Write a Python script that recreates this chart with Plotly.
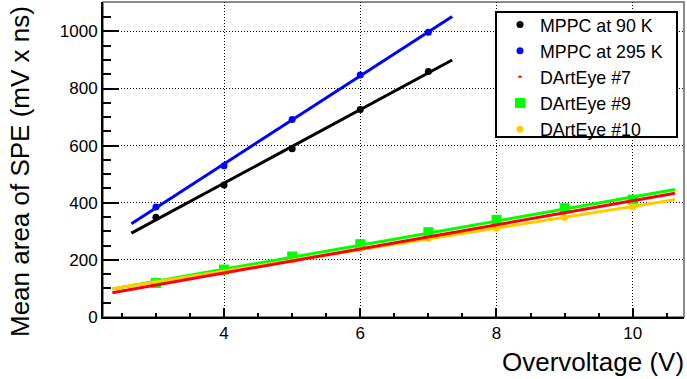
import numpy as np
import plotly.graph_objects as go

# ---- data ----
overvoltage_mppc = [3, 4, 5, 6, 7]
mppc_90k = [349, 462, 589, 727, 860]
mppc_295k = [385, 530, 692, 847, 997]

overvoltage_dae = [3, 4, 5, 6, 7, 8, 9, 10]
darteye_7 = [113, 152, 197, 239, 281, 321, 366, 407]
darteye_9 = [119, 166, 212, 255, 297, 340, 381, 411]
darteye_10 = [121, 158, 200, 240, 276, 311, 348, 385]

fit_range_mppc = [2.64, 7.35]
fit_range_dae = [2.36, 10.62]

x_tickvals = [4, 6, 8, 10]
y_tickvals = [0, 200, 400, 600, 800, 1000]

FONT = "Liberation Sans, Arial, Helvetica, sans-serif"

fig = go.Figure()

series = [
    ("MPPC at 90 K", overvoltage_mppc, mppc_90k, "black", "circle", 7, fit_range_mppc),
    ("MPPC at 295 K", overvoltage_mppc, mppc_295k, "#0000ff", "circle", 7, fit_range_mppc),
    ("DArtEye #7", overvoltage_dae, darteye_7, "#ff0000", "triangle-up", 4, fit_range_dae),
    ("DArtEye #9", overvoltage_dae, darteye_9, "#00ff00", "square", 10, fit_range_dae),
    ("DArtEye #10", overvoltage_dae, darteye_10, "#ffcc00", "circle", 7, fit_range_dae),
]

# markers
for name, xs, ys, col, sym, size, fr in series:
    fig.add_trace(go.Scatter(x=xs, y=ys, mode="markers", name=name,
                             marker=dict(color=col, symbol=sym, size=size, line=dict(width=0)),
                             showlegend=True))

# linear fits drawn over the fit range
line_order = [0, 1, 3, 4, 2]
for i in line_order:
    name, xs, ys, col, sym, size, fr = series[i]
    k, b = np.polyfit(xs, ys, 1)
    fx = np.array(fr)
    fig.add_trace(go.Scatter(x=fx, y=k * fx + b, mode="lines",
                             line=dict(color=col, width=3), showlegend=False,
                             hoverinfo="skip"))

axis_common = dict(
    showline=True, linecolor="black", linewidth=2,
    ticks="inside", tickcolor="black", tickwidth=1.5,
    showgrid=True, gridcolor="black", gridwidth=1, griddash="1px,2px",
    zeroline=False, mirror=False,
    tickfont=dict(family=FONT, size=17, color="black"),
)

fig.update_xaxes(range=[2.223, 10.753], tickvals=x_tickvals, ticklen=9,
                 minor=dict(dtick=0.5, tick0=0, ticks="inside", ticklen=4.5,
                            tickcolor="black", tickwidth=1.5, showgrid=False),
                 **axis_common)
fig.update_yaxes(range=[0, 1103], tickvals=y_tickvals, ticklen=16,
                 minor=dict(dtick=50, tick0=0, ticks="inside", ticklen=8,
                            tickcolor="black", tickwidth=1.5, showgrid=False),
                 **axis_common)

plot_w = 687 - 103 - 3
plot_h = 379 - 2 - 62

def px_x(p):
    return (p - 103) / plot_w

def px_y(p):
    return (317 - p) / plot_h

# thin frame (top / right)
fig.add_shape(type="rect", xref="paper", yref="paper", x0=0, x1=1, y0=0, y1=1,
              line=dict(color="#666666", width=1.5), layer="below")

# legend box
fig.add_shape(type="rect", xref="paper", yref="paper",
              x0=px_x(496), x1=px_x(677), y0=px_y(137), y1=px_y(12),
              line=dict(color="black", width=2), fillcolor="white", layer="above")

fig.add_annotation(text="Overvoltage (V)", xref="paper", yref="paper",
                   x=1 + 2 / plot_w, y=-(362 - 317) / plot_h,
                   xanchor="right", yanchor="middle", showarrow=False,
                   font=dict(family=FONT, size=26, color="black"))
fig.add_annotation(text="Mean area of SPE (mV x ns)", xref="paper", yref="paper",
                   x=-(103 - 20) / plot_w, y=(317 - 172) / plot_h, textangle=-90,
                   xanchor="center", yanchor="middle", showarrow=False,
                   font=dict(family=FONT, size=26, color="black"))

fig.update_layout(
    width=687, height=379,
    margin=dict(l=103, r=3, t=2, b=62),
    paper_bgcolor="white", plot_bgcolor="white",
    font=dict(family=FONT, color="black"),
    legend=dict(x=px_x(500), y=px_y(6.5),
                xanchor="left", yanchor="top",
                bgcolor="rgba(0,0,0,0)", borderwidth=0,
                font=dict(family=FONT, size=17.8, color="black"),
                itemsizing="trace"),
    showlegend=True,
)

fig.write_html("out.html", post_script="document.body.style.margin='0px';",
               config={"displayModeBar": False})
